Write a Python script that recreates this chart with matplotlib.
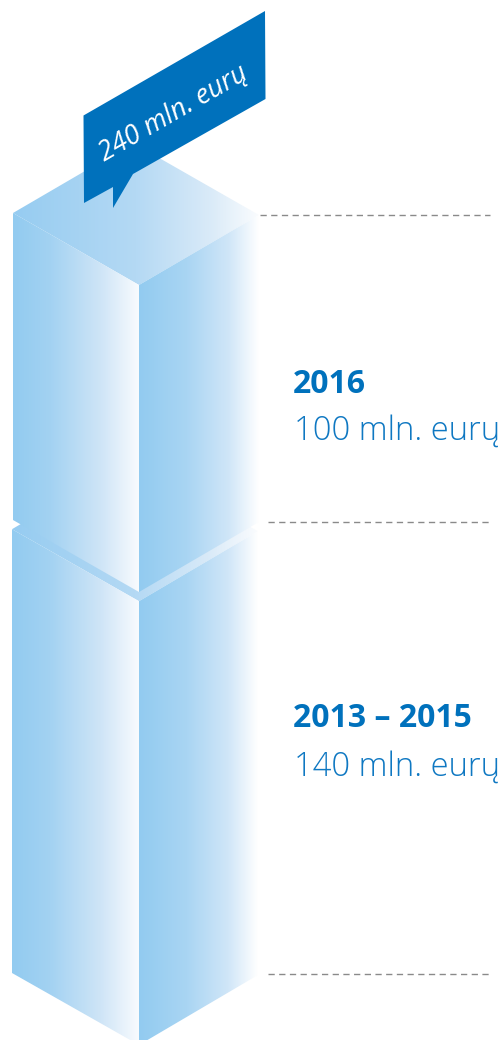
import matplotlib
matplotlib.use("Agg")
import matplotlib.pyplot as plt
import numpy as np
from matplotlib.colors import LinearSegmentedColormap
from matplotlib.patches import Polygon

# data
periods = ["2013 – 2015", "2016"]
values = [140, 100]
value_labels = ["140 mln. eurų", "100 mln. eurų"]
total_label = "240 mln. eurų"

# pixels per mln for each block (picture is not quite the same for both)
scales = [3.17, 3.07]
base_left = [973, 520]
left_x = [12, 13]
mid_x = 139
right_x = [258, 259]
drop = 72
tilt = 2

blue = "#0071BC"
light_text = "#0F78C2"
face_cmap = LinearSegmentedColormap.from_list("face", [(0, "#92CBF0"), (0.3, "#A3D2F2"), (0.7, "#CFE5F7"), (1, "#F8FBFE")])
side_cmap = LinearSegmentedColormap.from_list("side", [(0, "#92CBF0"), (0.4, "#A9D5F3"), (0.75, "#D0E6F8"), (1, "#FFFFFF")])
top_cmap = LinearSegmentedColormap.from_list("top", [(0, "#96CCF1"), (0.5, "#B4D9F4"), (0.8, "#D9EAF8"), (1, "#FAFCFE")])

fig = plt.figure(figsize=(5.04, 10.40), dpi=100)
ax = fig.add_axes([0, 0, 1, 1])
ax.axis("off")


def grad_poly(pts, cmap, x0, x1, z):
    ys = [p[1] for p in pts]
    g = np.linspace(0, 1, 256).reshape(1, -1)
    im = ax.imshow(g, cmap=cmap, extent=[x0, x1, max(ys), min(ys)], aspect="auto", zorder=z, vmin=0, vmax=1)
    clip = Polygon(pts, closed=True, transform=ax.transData, fc="none", ec="none")
    ax.add_patch(clip)
    im.set_clip_path(clip)


for i in range(len(values)):
    lx = left_x[i]
    rx = right_x[i]
    yb = base_left[i]
    yt = yb - values[i] * scales[i]
    z = 2 + i
    # top of the block, mostly hidden for the lower one
    top = [(lx, yt), (lx + rx - mid_x, yt + tilt - drop), (rx, yt + tilt), (mid_x, yt + drop)]
    grad_poly(top, top_cmap, lx, rx, z)
    grad_poly([(lx, yt), (mid_x, yt + drop), (mid_x, yb + drop), (lx, yb)], face_cmap, lx, mid_x, z)
    grad_poly([(mid_x, yt + drop), (rx, yt + tilt), (rx, yb + tilt), (mid_x, yb + drop)], side_cmap, mid_x, rx, z)

# dashed guides
guide_y = [974, 522, 215]
guide_x0 = [268, 268, 260]
guide_x1 = [492, 492, 490]
for y, x0, x1 in zip(guide_y, guide_x0, guide_x1):
    ax.plot([x0, x1], [y, y], color="#8A8A8A", lw=1, dashes=(4.5, 3.2), zorder=1)

# callout
bubble = [(83.5, 115.5), (265, 11), (265.5, 99), (133, 174), (113, 208), (113, 187), (84, 203)]
ax.add_patch(Polygon(bubble, closed=True, fc=blue, ec="none", zorder=6))
ax.text(173, 113, total_label, color="white", fontsize=19.5, style="italic", family="Open Sans",
        rotation=30, rotation_mode="anchor", ha="center", va="center", zorder=7)

# labels on the right
title_y = [727, 393]
value_y = [776, 440]
for i in range(len(periods)):
    ax.text(293, title_y[i], periods[i], color=blue, fontsize=23, fontweight="bold", family="Open Sans", va="baseline")
    ax.text(294, value_y[i], value_labels[i], color=light_text, fontsize=23.6, fontweight="light", family="Open Sans", va="baseline")

ax.set_xlim(0, 504)
ax.set_ylim(1040, 0)
fig.savefig("out.png", dpi=100)
